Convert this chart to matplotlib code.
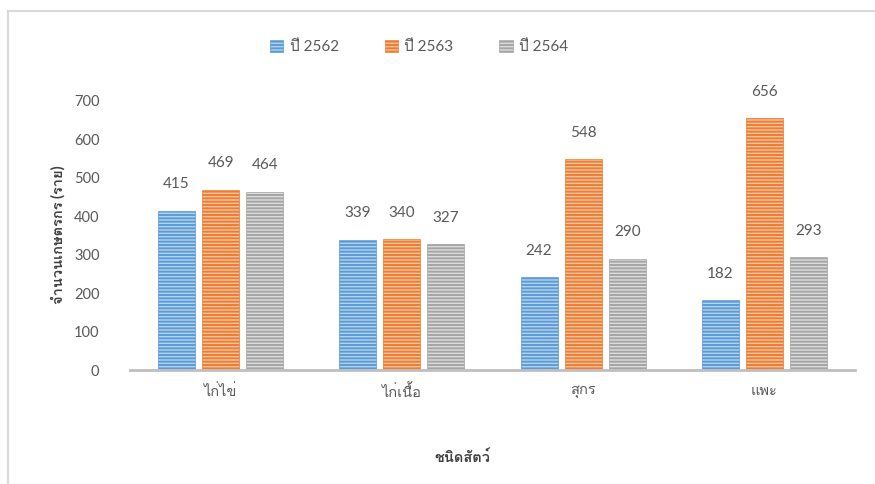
import matplotlib
matplotlib.use("Agg")
import matplotlib.pyplot as plt
from matplotlib import font_manager
from matplotlib.ft2font import FT2Font
import numpy as np

categories = ["ไก่ไข่", "ไก่เนื้อ", "สุกร", "แพะ"]
series_names = ["ปี 2562", "ปี 2563", "ปี 2564"]
v2562 = [415, 339, 242, 182]
v2563 = [469, 340, 548, 656]
v2564 = [464, 327, 290, 293]
yticks = [0, 100, 200, 300, 400, 500, 600, 700]
xlabel = "ชนิดสัตว์"
ylabel = "จำนวนเกษตรกร (ราย)"

# find a font that covers Thai
thai_fonts = []
seen = set()
for f in font_manager.fontManager.ttflist:
    if f.name in seen:
        continue
    try:
        cm = FT2Font(f.fname).get_charmap()
        if 0x0E01 in cm:
            thai_fonts.append(f.name)
            seen.add(f.name)
    except Exception:
        pass
families = ["Lato"] + thai_fonts[:1] + ["DejaVu Sans"]
plt.rcParams['font.family'] = families
plt.rcParams['hatch.linewidth'] = 1.4

base = ["#5B9BD5", "#ED7D31", "#A5A5A5"]
light = ["#B4D2EE", "#F8C3A0", "#DCDCDC"]
txt = "#595959"

fig = plt.figure(figsize=(8.75, 4.84), dpi=100)
ax = fig.add_axes([130/875, (484-370)/484, 725/875, (370-101)/484])

x = np.arange(len(categories))
w = 0.205
step = 0.243
for i, vals in enumerate([v2562, v2563, v2564]):
    bars = ax.bar(x + (i-1)*step, vals, w, color=light[i], edgecolor=base[i],
                  hatch="-----", linewidth=0.5, label=series_names[i], zorder=2)
    for xi, v in zip(x + (i-1)*step, vals):
        ax.annotate(str(v), (xi, v), xytext=(0, 19), textcoords="offset points",
                    ha="center", va="center", fontsize=11, color=txt)

ax.set_xlim(-0.5, 3.5)
ax.set_ylim(0, 700)
ax.set_yticks(yticks)
ax.set_xticks(x)
ax.set_xticklabels(categories, fontsize=10.5, color=txt)
ax.tick_params(axis='y', labelsize=10.5, colors=txt, length=0, pad=22)
ax.tick_params(axis='x', length=0, pad=10)
for s in ["top", "right", "left"]:
    ax.spines[s].set_visible(False)
ax.spines["bottom"].set_color("#BFBFBF")
ax.spines["bottom"].set_linewidth(2)

fig.text(58/875, 1-235/484, ylabel, rotation=90, ha="center", va="center",
         fontsize=10.5, fontweight="bold", color="#404040")
fig.text(462/875, 1-458/484, xlabel, ha="center", va="center",
         fontsize=10.5, fontweight="bold", color="#404040")

leg = fig.legend(loc="center", bbox_to_anchor=(419/875, 1-47/484), ncol=3,
                 frameon=False, fontsize=11, handlelength=0.9, handleheight=0.9,
                 columnspacing=3.0, handletextpad=0.4)
for t in leg.get_texts():
    t.set_color(txt)

# chart border (top & left)
fig.add_artist(plt.Line2D([8/875, 1], [1-11/484, 1-11/484], color="#D9D9D9", lw=1.5))
fig.add_artist(plt.Line2D([8/875, 8/875], [0, 1-11/484], color="#D9D9D9", lw=1.5))

fig.savefig("out.png", dpi=100)
